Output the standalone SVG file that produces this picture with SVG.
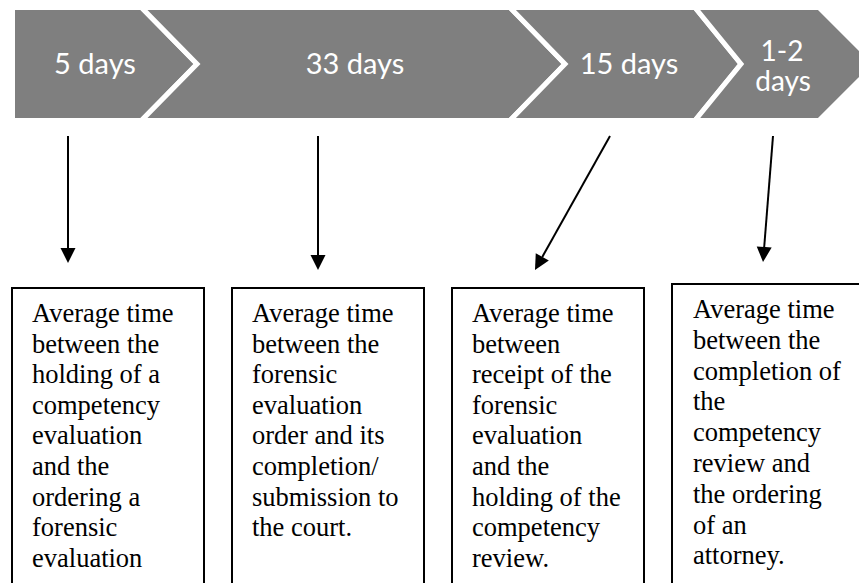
<svg xmlns="http://www.w3.org/2000/svg" width="859" height="583" viewBox="0 0 859 583">
<style>
.chev{fill:#7f7f7f;stroke:#ffffff;stroke-width:5;stroke-linejoin:miter}
.lbl{font-family:Lato,"Open Sans",sans-serif;font-size:29px;fill:#ffffff;text-anchor:middle}
.lbl2{font-family:Lato,"Open Sans",sans-serif;font-size:28px;fill:#ffffff;text-anchor:middle}
.box{fill:#ffffff;stroke:#000000;stroke-width:2}
.txt{font-family:"Liberation Serif","Times New Roman",serif;font-size:26.5px;fill:#000000}
.conn{stroke:#000000;stroke-width:2;fill:none;marker-end:url(#ah)}
</style>
<defs>
<marker id="ah" markerUnits="userSpaceOnUse" viewBox="0 -8 16 16" markerWidth="16" markerHeight="16" refX="0" refY="0" orient="auto" overflow="visible">
<path d="M0,-7.5 L15,0 L0,7.5 Z" fill="#000000"/>
</marker>
</defs>
<rect width="859" height="583" fill="#ffffff"/>
<g id="chevron1">
<polygon class="chev" points="12.5,7.5 141.5,7.5 197,64 141.5,120.5 12.5,120.5"/>
<text class="lbl" x="95" y="74">5 days</text>
</g>
<g id="chevron2">
<polygon class="chev" points="141.5,7.5 510,7.5 565,64 510,120.5 141.5,120.5 197,64"/>
<text class="lbl" x="355" y="74">33 days</text>
</g>
<g id="chevron3">
<polygon class="chev" points="510,7.5 695,7.5 741,64 695,120.5 510,120.5 565,64"/>
<text class="lbl" x="629" y="74">15 days</text>
</g>
<g id="chevron4">
<polygon class="chev" points="695,7.5 819,7.5 875.5,64 819,120.5 695,120.5 741,64"/>
<text class="lbl2" x="782" y="61">1-2</text>
<text class="lbl2" x="783" y="91">days</text>
</g>
<g id="connectors">
<line class="conn" x1="68" y1="136" x2="68" y2="248"/>
<line class="conn" x1="318" y1="136" x2="318" y2="255"/>
<line class="conn" x1="610" y1="136" x2="542.3" y2="256.9"/>
<line class="conn" x1="773" y1="136" x2="764.2" y2="247"/>
</g>
<g id="box1">
<rect class="box" x="12" y="288" width="192" height="310"/>
<text class="txt"><tspan x="32" y="322">Average time</tspan><tspan x="32" y="352.6">between the</tspan><tspan x="32" y="383.2">holding of a</tspan><tspan x="32" y="413.8">competency</tspan><tspan x="32" y="444.4">evaluation</tspan><tspan x="32" y="475">and the</tspan><tspan x="32" y="505.6">ordering a</tspan><tspan x="32" y="536.2">forensic</tspan><tspan x="32" y="566.8">evaluation</tspan></text>
</g>
<g id="box2">
<rect class="box" x="232" y="288" width="192" height="310"/>
<text class="txt"><tspan x="252" y="322">Average time</tspan><tspan x="252" y="352.6">between the</tspan><tspan x="252" y="383.2">forensic</tspan><tspan x="252" y="413.8">evaluation</tspan><tspan x="252" y="444.4">order and its</tspan><tspan x="252" y="475">completion/</tspan><tspan x="252" y="505.6">submission to</tspan><tspan x="252" y="536.2">the court.</tspan></text>
</g>
<g id="box3">
<rect class="box" x="452" y="288" width="192" height="310"/>
<text class="txt"><tspan x="472" y="322">Average time</tspan><tspan x="472" y="352.6">between</tspan><tspan x="472" y="383.2">receipt of the</tspan><tspan x="472" y="413.8">forensic</tspan><tspan x="472" y="444.4">evaluation</tspan><tspan x="472" y="475">and the</tspan><tspan x="472" y="505.6">holding of the</tspan><tspan x="472" y="536.2">competency</tspan><tspan x="472" y="566.8">review.</tspan></text>
</g>
<g id="box4">
<rect class="box" x="672" y="284" width="200" height="314"/>
<text class="txt"><tspan x="693" y="318">Average time</tspan><tspan x="693" y="348.8">between the</tspan><tspan x="693" y="379.6">completion of</tspan><tspan x="693" y="410.4">the</tspan><tspan x="693" y="441.2">competency</tspan><tspan x="693" y="472">review and</tspan><tspan x="693" y="502.8">the ordering</tspan><tspan x="693" y="533.6">of an</tspan><tspan x="693" y="564.4">attorney.</tspan></text>
</g>
</svg>
